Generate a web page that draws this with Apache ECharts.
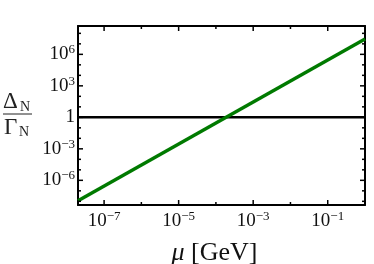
<!DOCTYPE html>
<html><head><meta charset="utf-8">
<script src="https://cdn.jsdelivr.net/npm/echarts@6/dist/echarts.min.js"></script>
<style>html,body{margin:0;padding:0;background:#fff}#c{width:374px;height:264px}</style>
</head><body><div id="c"></div>
<script>
// Data (mu in GeV, ratio Delta_N / Gamma_N)
const muGeV = [2.0e-8, 1.0];
const ratioGreen = [1.15e-8, 2.9e7];
const ratioUnity = [1, 1];
// tick exponents (log10)
const xMajorExp = [-7, -5, -3, -1];
const xMinorExp = [-6, -4, -2];
const yMajorExp = [-6, -3, 0, 3, 6];
const yMinorExp = [-8, -7, -5, -4, -2, -1, 1, 2, 4, 5, 7, 8];
const xLogMin = -7.7, xLogMax = 0;
const yLogMin = -8.35, yLogMax = 8.7;

const FF = '"Liberation Serif", "DejaVu Serif", serif';
const TXT = '#111';

function expLabel(v) {
  const e = Math.round(v);
  if (e === 0) return '{b|1}';
  return '{b|10}{s|' + (e < 0 ? '\u2212' + (-e) : String(e)) + '}';
}
const rich = {
  b: { fontSize: 19, fontFamily: FF, color: TXT, lineHeight: 22 },
  s: { fontSize: 13, fontFamily: FF, color: TXT, verticalAlign: 'top', lineHeight: 22 }
};
const frameLine = { show: true, onZero: false, lineStyle: { color: '#000', width: 2 } };

// Inward ticks on all four sides, placed through the axes' own scales.
function seg(x1, y1, x2, y2) {
  return { type: 'line', shape: { x1: x1, y1: y1, x2: x2, y2: y2 }, style: { stroke: '#000', lineWidth: 1.5 } };
}
function tickSeries(dim, values, len) {
  return {
    type: 'custom', xAxisIndex: 0, yAxisIndex: 0, silent: true, clip: false, z: 6,
    encode: dim === 'x' ? { x: 0 } : { y: 0 },
    data: values.map(v => [v]),
    renderItem: function (params, api) {
      const v = api.value(0);
      if (dim === 'x') {
        const b = api.coord([v, yLogMin]), t = api.coord([v, yLogMax]);
        return { type: 'group', children: [seg(b[0], b[1], b[0], b[1] - len), seg(t[0], t[1], t[0], t[1] + len)] };
      }
      const l = api.coord([xLogMin, v]), r = api.coord([xLogMax, v]);
      return { type: 'group', children: [seg(l[0], l[1], l[0] + len, l[1]), seg(r[0], r[1], r[0] - len, r[1])] };
    }
  };
}

const toXY = (xv, yv) => xv.map((x, i) => [Math.log10(x), Math.log10(yv[i])]);

const chart = echarts.init(document.getElementById('c'), null, { renderer: 'canvas' });
chart.setOption({
  animation: false,
  backgroundColor: '#fff',
  grid: { left: 78, right: 9, top: 26, bottom: 59, outerBoundsMode: 'none', containLabel: false },
  xAxis: [
    { type: 'value', position: 'bottom', min: xLogMin, max: xLogMax,
      axisLine: frameLine, axisTick: { show: false }, splitLine: { show: false },
      axisLabel: { show: true, customValues: xMajorExp, formatter: expLabel, rich: rich, margin: 5 },
      name: '{i|μ}{r| [GeV]}', nameLocation: 'middle', nameGap: 35,
      nameTextStyle: { padding: [0, 14, 0, 0], rich: { i: { fontSize: 26, fontFamily: FF, fontStyle: 'italic', color: TXT }, r: { fontSize: 26, fontFamily: FF, color: TXT } } } },
    { type: 'value', position: 'top', min: xLogMin, max: xLogMax,
      axisLine: frameLine, axisTick: { show: false }, splitLine: { show: false }, axisLabel: { show: false } }
  ],
  yAxis: [
    { type: 'value', position: 'left', min: yLogMin, max: yLogMax,
      axisLine: frameLine, axisTick: { show: false }, splitLine: { show: false },
      axisLabel: { show: true, customValues: yMajorExp, formatter: expLabel, rich: rich, margin: 3 } },
    { type: 'value', position: 'right', min: yLogMin, max: yLogMax,
      axisLine: frameLine, axisTick: { show: false }, splitLine: { show: false }, axisLabel: { show: false } }
  ],
  graphic: [
    { type: 'text', left: 3, top: 90, style: { text: 'Δ', font: '23px ' + FF, fill: '#222' } },
    { type: 'text', left: 20, top: 100, style: { text: 'N', font: '14px ' + FF, fill: '#222' } },
    { type: 'line', shape: { x1: 3, y1: 114, x2: 32, y2: 114 }, style: { stroke: '#222', lineWidth: 1 } },
    { type: 'text', left: 4, top: 116, style: { text: 'Γ', font: '23px ' + FF, fill: '#222' } },
    { type: 'text', left: 19, top: 125, style: { text: 'N', font: '14px ' + FF, fill: '#222' } }
  ],
  series: [
    { type: 'line', xAxisIndex: 0, yAxisIndex: 0, data: toXY(muGeV, ratioUnity), symbol: 'none', lineStyle: { color: '#000', width: 2.5 }, z: 3 },
    { type: 'line', xAxisIndex: 0, yAxisIndex: 0, data: toXY(muGeV, ratioGreen), symbol: 'none', lineStyle: { color: '#007a00', width: 3.5 }, z: 4 },
    tickSeries('x', xMajorExp, 5), tickSeries('x', xMinorExp, 3),
    tickSeries('y', yMajorExp, 5), tickSeries('y', yMinorExp, 3)
  ]
});
</script></body></html>
